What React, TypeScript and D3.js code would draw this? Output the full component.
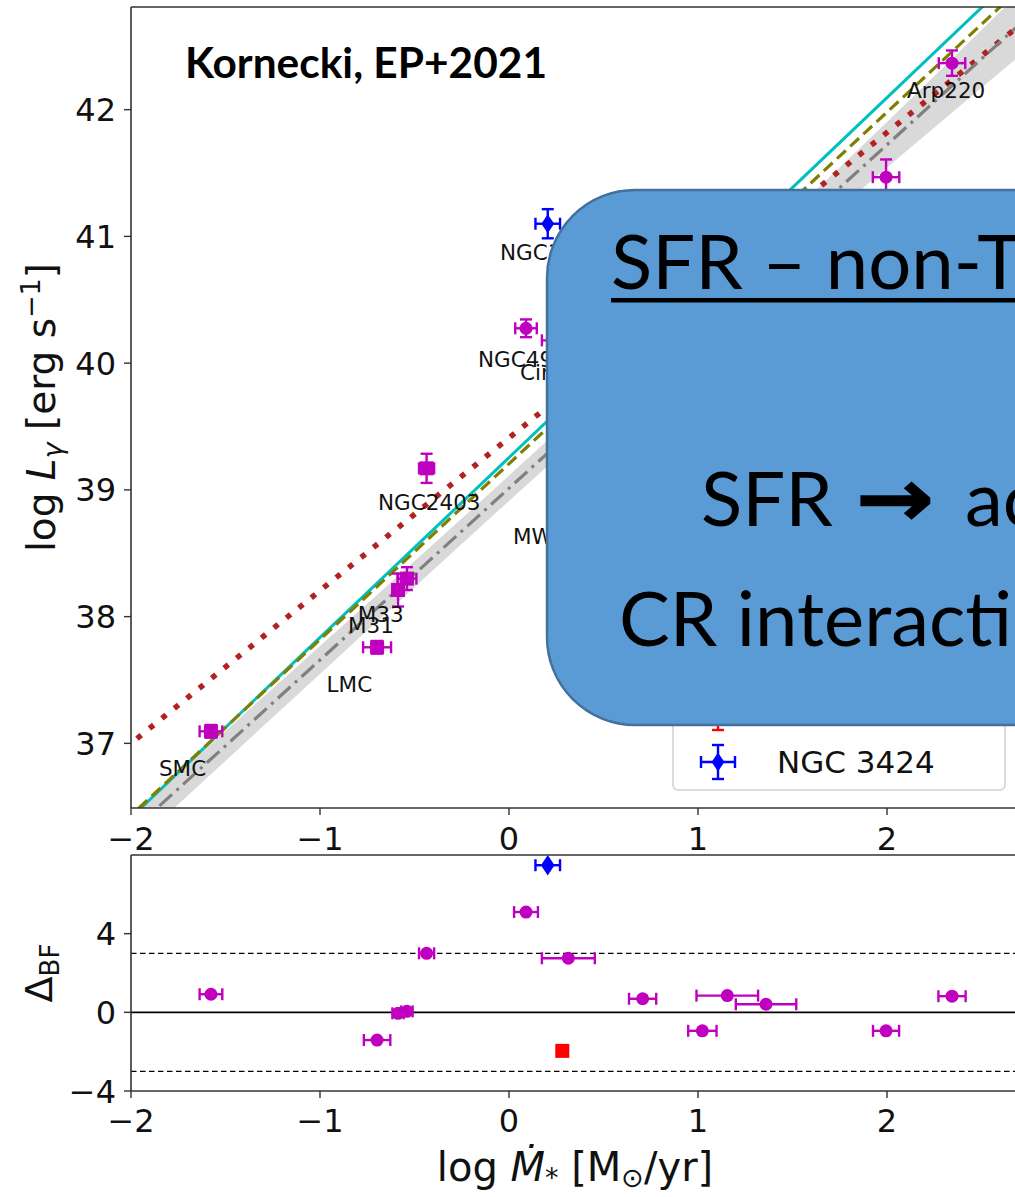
import React from 'react';
import * as d3 from 'd3';

const W = 1015;
const H = 1197;

// top panel: galaxies (log SFR, log L_gamma)
const galX = [-1.577, -0.698, -0.587, -0.54, -0.436, 0.09, 0.314, 0.707, 1.023, 1.155, 1.36, 1.995, 2.344];
const galY = [37.095, 37.758, 38.21, 38.3, 39.17, 40.275, 40.18, 40.13, 40.18, 40.77, 40.95, 41.467, 42.367];
const galXErr = [0.06, 0.074, 0.03, 0.05, 0.04, 0.057, 0.14, 0.072, 0.075, 0.163, 0.16, 0.07, 0.07];
const galYErr = [0.05, 0.05, 0.13, 0.09, 0.115, 0.07, 0.08, 0.08, 0.08, 0.1, 0.1, 0.14, 0.1];
const galMarker = ['s', 's', 's', 's', 's', 'o', 'o', 'o', 'o', 'o', 'o', 'o', 'o'];
// bottom panel: residuals Delta_BF
const galDelta = [0.92, -1.41, -0.05, 0.05, 3.0, 5.1, 2.75, 0.69, -0.94, 0.85, 0.41, -0.94, 0.82];
const galDXErr = [0.06, 0.07, 0.03, 0.03, 0.04, 0.063, 0.14, 0.072, 0.075, 0.163, 0.16, 0.069, 0.072];

// NGC 3424 (blue diamond) and the red square point
const blueX = 0.205, blueY = 41.1, blueXErr = 0.065, blueYErr = 0.115, blueDelta = 7.48;
const redX = 0.282, redY = 38.95, redDelta = -1.96;

// annotations
const labelText = ['SMC', 'LMC', 'M33', 'M31', 'NGC2403', 'MW', 'NGC4945', 'Circinus', 'NGC1068', 'Arp220'];
const labelX = [-1.852, -0.965, -0.8, -0.852, -0.693, 0.021, -0.164, 0.058, -0.048, 2.106];
const labelY = [36.74, 37.405, 37.957, 37.868, 38.839, 38.57, 39.97, 39.865, 40.81, 42.09];

// fit lines: log L = a * log SFR + b
const fitColor = ['#00bfbf', '#808000', '#b22222', '#808080'];
const fitSlope = [1.42, 1.387, 1.205, 1.355];
const fitIntercept = [39.255, 39.206, 39.41, 39.013];
const fitDash = ['', '12 6', '5.5 10.5', '17 6 3 6'];
const fitWidth = [3, 3.2, 5.5, 3.2];
const bandX = [-2.1, -1, 0, 1, 2, 2.8];
const bandHW = [0.13, 0.11, 0.1, 0.12, 0.18, 0.26];

const xTicks = [-2, -1, 0, 1, 2];
const yTopTicks = [37, 38, 39, 40, 41, 42];
const yBotTicks = [-4, 0, 4];
const limLines = [3, -3];

const x = d3.scaleLinear().domain([-2, 2.7]).range([131, 131 + 4.7 * 189]);
const yTop = d3.scaleLinear().domain([36.49, 42.81]).range([808, 7]);
const yBot = d3.scaleLinear().domain([-4, 8]).range([1091, 855]);

const MAG = '#bf00bf';
const FONT = 'DejaVu Sans, sans-serif';
const fmt = (v: number) => (v < 0 ? '\u2212' + Math.abs(v) : String(v));

function Marker({ type, cx, cy, color, s }: any) {
  if (type === 's') return <rect x={cx - s / 2} y={cy - s / 2} width={s} height={s} fill={color} />;
  if (type === 'd') return <path d={`M${cx},${cy - s * 0.6}L${cx + s * 0.4},${cy}L${cx},${cy + s * 0.6}L${cx - s * 0.4},${cy}Z`} fill={color} />;
  return <circle cx={cx} cy={cy} r={s / 2} fill={color} />;
}

function ErrPoint({ cx, cy, x0, x1, y0, y1, color, type, s }: any) {
  const c = 6;
  return (
    <g stroke={color} strokeWidth={2.4}>
      {x0 !== x1 && (
        <>
          <line x1={x0} x2={x1} y1={cy} y2={cy} />
          <line x1={x0} x2={x0} y1={cy - c} y2={cy + c} />
          <line x1={x1} x2={x1} y1={cy - c} y2={cy + c} />
        </>
      )}
      {y0 !== y1 && (
        <>
          <line x1={cx} x2={cx} y1={y0} y2={y1} />
          <line x1={cx - c} x2={cx + c} y1={y0} y2={y0} />
          <line x1={cx - c} x2={cx + c} y1={y1} y2={y1} />
        </>
      )}
      <g stroke="none">
        <Marker type={type} cx={cx} cy={cy} color={color} s={s} />
      </g>
    </g>
  );
}

export default function App() {
  const lineGen = d3.line<number>();
  const band = d3
    .area<number>()
    .x((_, i) => x(bandX[i]))
    .y0((_, i) => yTop(fitIntercept[3] + fitSlope[3] * bandX[i] - bandHW[i]))
    .y1((_, i) => yTop(fitIntercept[3] + fitSlope[3] * bandX[i] + bandHW[i]))
    .curve(d3.curveMonotoneX);

  const axisColor = '#333';
  const left = x(-2);

  return (
    <svg width={W} height={H} style={{ position: 'absolute', left: 0, top: 0, display: 'block' }} fontFamily={FONT}>
      <defs>
        <clipPath id="clipTop">
          <rect x={left} y={yTop(42.81)} width={1100} height={yTop(36.49) - yTop(42.81)} />
        </clipPath>
        <clipPath id="clipBot">
          <rect x={left} y={yBot(8)} width={1100} height={yBot(-4) - yBot(8)} />
        </clipPath>
      </defs>
      <rect width={W} height={H} fill="#fff" />

      {/* ---------- top panel ---------- */}
      <g clipPath="url(#clipTop)">
        <path d={band(bandX) || ''} fill="#d9d9d9" />
        {fitSlope.map((a, i) => (
          <path
            key={i}
            d={lineGen([
              [x(-2.1), yTop(fitIntercept[i] + a * -2.1)],
              [x(2.9), yTop(fitIntercept[i] + a * 2.9)],
            ]) || ''}
            fill="none"
            stroke={fitColor[i]}
            strokeWidth={fitWidth[i]}
            strokeDasharray={fitDash[i] || undefined}
          />
        ))}
        {galX.map((gx, i) => (
          <ErrPoint
            key={i}
            cx={x(gx)}
            cy={yTop(galY[i])}
            x0={x(gx - galXErr[i])}
            x1={x(gx + galXErr[i])}
            y0={yTop(galY[i] - galYErr[i])}
            y1={yTop(galY[i] + galYErr[i])}
            color={MAG}
            type={galMarker[i]}
            s={galMarker[i] === 's' ? 14 : 13}
          />
        ))}
        <rect x={x(redX) - 7} y={yTop(redY) - 7} width={14} height={14} fill="#ff0000" />
        <ErrPoint
          cx={x(blueX)}
          cy={yTop(blueY)}
          x0={x(blueX - blueXErr)}
          x1={x(blueX + blueXErr)}
          y0={yTop(blueY - blueYErr)}
          y1={yTop(blueY + blueYErr)}
          color="#0000ff"
          type="d"
          s={16}
        />
        {labelText.map((t, i) => (
          <text key={t} x={x(labelX[i])} y={yTop(labelY[i])} fontSize={21.5} fill="#111">
            {t}
          </text>
        ))}
      </g>

      {/* legend (lower right, mostly covered) */}
      <g>
        <rect x={673} y={560} width={332} height={230} rx={5} fill="#fff" fillOpacity={0.9} stroke="#d0d0d0" strokeWidth={1.5} />
        <ErrPoint cx={718} cy={716} x0={701} x1={735} y0={730} y1={702} color="#ff0000" type="s" s={13} />
        <ErrPoint cx={718} cy={762} x0={701} x1={735} y0={779} y1={745} color="#0000ff" type="d" s={16} />
        <text x={777} y={773} fontSize={31} fill="#111">NGC 3424</text>
      </g>

      {/* top axes */}
      <line x1={left} x2={W + 10} y1={yTop(42.81)} y2={yTop(42.81)} stroke={axisColor} strokeWidth={1.6} />
      <line x1={left} x2={W + 10} y1={yTop(36.49)} y2={yTop(36.49)} stroke={axisColor} strokeWidth={1.6} />
      <line x1={left} x2={left} y1={yTop(42.81)} y2={yTop(36.49)} stroke={axisColor} strokeWidth={1.6} />
      {yTopTicks.map((t) => (
        <g key={t}>
          <line x1={left - 7} x2={left} y1={yTop(t)} y2={yTop(t)} stroke={axisColor} strokeWidth={1.4} />
          <text x={left - 15} y={yTop(t)} dy="0.36em" textAnchor="end" fontSize={32} fill="#111">
            {fmt(t)}
          </text>
        </g>
      ))}
      {xTicks.map((t) => (
        <g key={t}>
          <line x1={x(t)} x2={x(t)} y1={yTop(36.49)} y2={yTop(36.49) + 7} stroke={axisColor} strokeWidth={1.4} />
          <text x={x(t)} y={850} textAnchor="middle" fontSize={32} fill="#111">
            {fmt(t)}
          </text>
        </g>
      ))}
      <text transform={`translate(55,${(yTop(42.81) + yTop(36.49)) / 2}) rotate(-90)`} textAnchor="middle" fontSize={39} fill="#111">
        log <tspan fontStyle="italic">L</tspan>
        <tspan fontSize={27} dy={7} fontStyle="italic">γ</tspan>
        <tspan dy={-7}> [erg s</tspan>
        <tspan fontSize={27} dy={-15}>{'\u22121'}</tspan>
        <tspan dy={15}>]</tspan>
      </text>

      {/* ---------- bottom panel ---------- */}
      <g clipPath="url(#clipBot)">
        <line x1={left} x2={W + 10} y1={yBot(0)} y2={yBot(0)} stroke="#000" strokeWidth={1.6} />
        {limLines.map((v) => (
          <line key={v} x1={left} x2={W + 10} y1={yBot(v)} y2={yBot(v)} stroke="#000" strokeWidth={1.3} strokeDasharray="5.5 3.5" />
        ))}
        {galX.map((gx, i) => (
          <ErrPoint
            key={i}
            cx={x(gx)}
            cy={yBot(galDelta[i])}
            x0={x(gx - galDXErr[i])}
            x1={x(gx + galDXErr[i])}
            y0={yBot(galDelta[i])}
            y1={yBot(galDelta[i])}
            color={MAG}
            type="o"
            s={13}
          />
        ))}
        <rect x={x(redX) - 7} y={yBot(redDelta) - 7} width={14} height={14} fill="#ff0000" />
        <ErrPoint
          cx={x(blueX)}
          cy={yBot(blueDelta)}
          x0={x(blueX - blueXErr)}
          x1={x(blueX + blueXErr)}
          y0={yBot(blueDelta)}
          y1={yBot(blueDelta)}
          color="#0000ff"
          type="d"
          s={17}
        />
      </g>
      <line x1={left} x2={W + 10} y1={yBot(8)} y2={yBot(8)} stroke={axisColor} strokeWidth={1.6} />
      <line x1={left} x2={W + 10} y1={yBot(-4)} y2={yBot(-4)} stroke={axisColor} strokeWidth={1.6} />
      <line x1={left} x2={left} y1={yBot(8)} y2={yBot(-4)} stroke={axisColor} strokeWidth={1.6} />
      {yBotTicks.map((t) => (
        <g key={t}>
          <line x1={left - 7} x2={left} y1={yBot(t)} y2={yBot(t)} stroke={axisColor} strokeWidth={1.4} />
          <text x={left - 15} y={yBot(t)} dy="0.36em" textAnchor="end" fontSize={32} fill="#111">
            {fmt(t)}
          </text>
        </g>
      ))}
      {xTicks.map((t) => (
        <g key={t}>
          <line x1={x(t)} x2={x(t)} y1={yBot(-4)} y2={yBot(-4) + 7} stroke={axisColor} strokeWidth={1.4} />
          <text x={x(t)} y={1132} textAnchor="middle" fontSize={32} fill="#111">
            {fmt(t)}
          </text>
        </g>
      ))}
      <text transform={`translate(52,${(yBot(8) + yBot(-4)) / 2}) rotate(-90)`} textAnchor="middle" fontSize={38} fill="#111">
        Δ<tspan fontSize={26} dy={7}>BF</tspan>
      </text>
      <text x={575} y={1181} textAnchor="middle" fontSize={40} fill="#111">
        log <tspan fontStyle="italic">Ṁ</tspan>
        <tspan fontSize={27} dy={6}>*</tspan>
        <tspan dy={-6}> [M</tspan>
        <tspan fontSize={27} dy={6}>⊙</tspan>
        <tspan dy={-6}>/yr]</tspan>
      </text>

      {/* ---------- slide overlay ---------- */}
      <text x={185} y={78} fontFamily="Lato, sans-serif" fontWeight="bold" fontSize={42} textLength={362} lengthAdjust="spacingAndGlyphs" fill="#000">
        Kornecki, EP+2021
      </text>
      <rect x={547} y={190} width={600} height={535} rx={88} fill="#5b9bd5" stroke="#41719c" strokeWidth={2.5} />
      <g fontFamily="Lato, sans-serif" fontSize={76} fill="#000">
        <text x={611} y={289}>
          SFR – non-Thermal
        </text>
        <rect x={611} y={298} width={500} height={4.5} fill="#000" />
        <text x={701} y={526}>
          SFR
        </text>
        <text x={856} y={526} fontFamily={FONT} fontWeight="bold" fontSize={80} textLength={78} lengthAdjust="spacingAndGlyphs" stroke="#000" strokeWidth={1.5}>
          →
        </text>
        <text x={965} y={526}>
          acceleration
        </text>
        <text x={619} y={646}>
          CR interactions
        </text>
      </g>
    </svg>
  );
}
